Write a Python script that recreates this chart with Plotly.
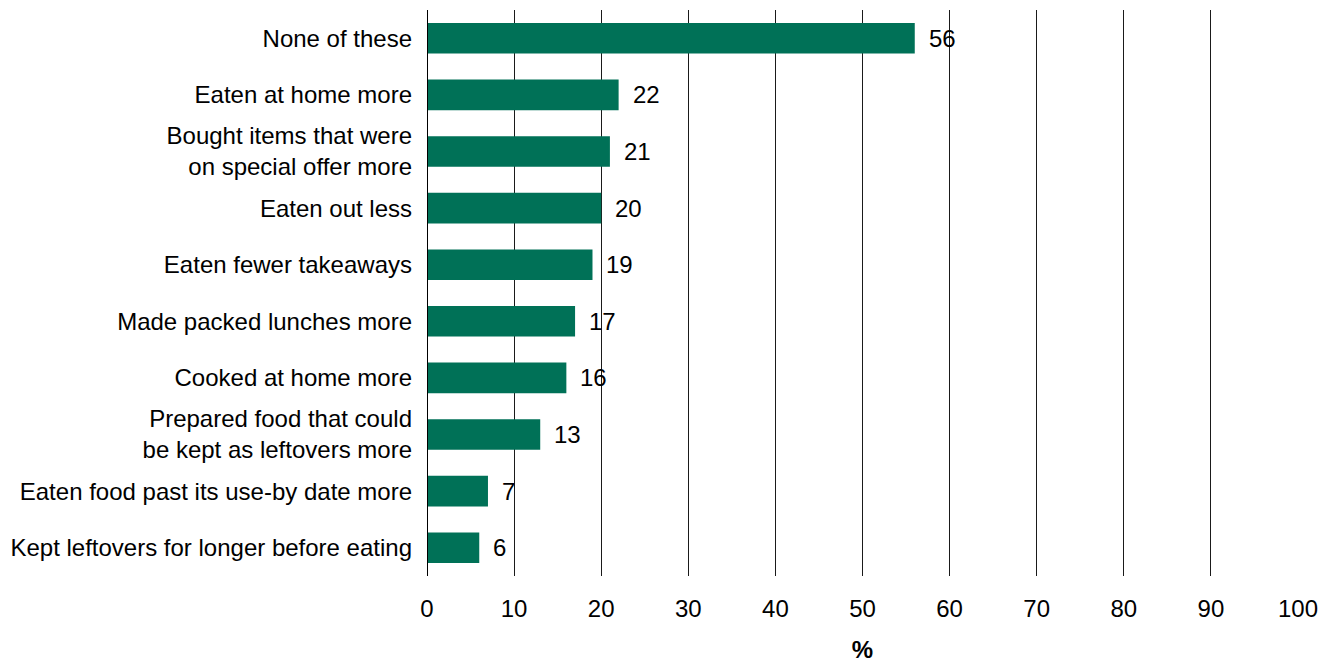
import plotly.graph_objects as go

categories = [
    "None of these",
    "Eaten at home more",
    "Bought items that were<br>on special offer more",
    "Eaten out less",
    "Eaten fewer takeaways",
    "Made packed lunches more",
    "Cooked at home more",
    "Prepared food that could<br>be kept as leftovers more",
    "Eaten food past its use-by date more",
    "Kept leftovers for longer before eating",
]
values = [56, 22, 21, 20, 19, 17, 16, 13, 7, 6]
x_ticks = [0, 10, 20, 30, 40, 50, 60, 70, 80, 90, 100]

FONT = "Liberation Sans, Arial, sans-serif"
FS = 24

fig = go.Figure()
fig.add_trace(go.Bar(
    x=values, y=categories, orientation="h",
    marker=dict(color="#007157", line=dict(width=0)),
    width=0.54, hoverinfo="x+y",
))

for c, v in zip(categories, values):
    fig.add_annotation(x=v, y=c, text=str(v), showarrow=False,
                       xanchor="left", xshift=12, yshift=0,
                       font=dict(family=FONT, size=FS, color="#000"))

# page body has an 8px margin, so the figure is sized to fit inside it
fig.update_layout(
    width=1330, height=658,
    margin=dict(l=419, r=40, t=2, b=90),
    paper_bgcolor="white", plot_bgcolor="white",
    font=dict(family=FONT, size=FS, color="#000"),
    showlegend=False,
)
fig.update_xaxes(
    range=[0, 100], tickvals=x_ticks, ticks="", ticklabelstandoff=16,
    showgrid=True, gridcolor="#1a1a1a", gridwidth=1,
    zeroline=False, showline=False,
    title=dict(text="<b>%</b>", standoff=20, font=dict(size=FS)),
    fixedrange=True,
)
fig.update_yaxes(
    categoryorder="array", categoryarray=categories, autorange="reversed",
    showgrid=False, zeroline=False, ticks="", ticklabelstandoff=14,
    showline=False, fixedrange=True,
)
fig.add_shape(type="line", xref="x", yref="paper", x0=0, x1=0, y0=0, y1=1,
              line=dict(color="#000", width=2))

fig.write_html("out.html")
